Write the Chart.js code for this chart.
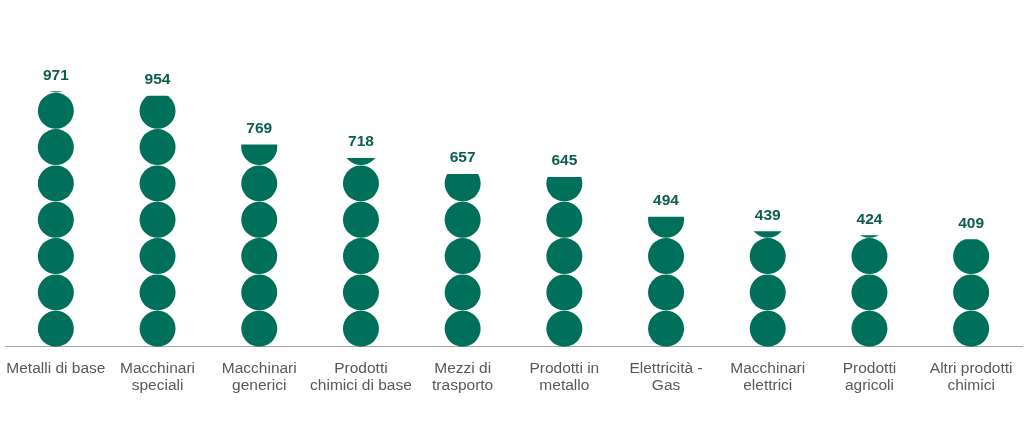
<!DOCTYPE html>
<html>
<head>
<meta charset="utf-8">
<script src="https://cdn.jsdelivr.net/npm/chart.js@4"></script>
<style>
  html, body { margin: 0; padding: 0; background: #fff; }
  #wrap { width: 1024px; height: 430px; }
</style>
</head>
<body>
<div id="wrap"><canvas id="chart"></canvas></div>
<script>
const categories = [
    ['Metalli di base'],
    ['Macchinari', 'speciali'],
    ['Macchinari', 'generici'],
    ['Prodotti', 'chimici di base'],
    ['Mezzi di', 'trasporto'],
    ['Prodotti in', 'metallo'],
    ['Elettricità -', 'Gas'],
    ['Macchinari', 'elettrici'],
    ['Prodotti', 'agricoli'],
    ['Altri prodotti', 'chimici'],
];
const values = [971, 954, 769, 718, 657, 645, 494, 439, 424, 409];
// value represented by one circle of the stack
const unitPerCircle = 138;

const green = '#00705B';
const labelGreen = '#0B5E4E';

// draws each bar as a stack of circles, clipped at the bar's top
const circleStack = {
    id: 'circleStack',
    afterDatasetsDraw(chart) {
        const ctx = chart.ctx;
        const y = chart.scales.y;
        const pitch = y.getPixelForValue(0) - y.getPixelForValue(unitPerCircle);
        const meta = chart.getDatasetMeta(0);
        meta.data.forEach((bar, i) => {
            const r = bar.width / 2;
            const top = bar.y;
            const base = bar.base;
            ctx.save();
            ctx.beginPath();
            ctx.rect(bar.x - r - 2, top, bar.width + 4, base - top);
            ctx.clip();
            ctx.fillStyle = green;
            let cy = base - pitch / 2;
            while (cy + pitch / 2 > top) {
                ctx.beginPath();
                ctx.arc(bar.x, cy, r, 0, Math.PI * 2);
                ctx.fill();
                cy -= pitch;
            }
            ctx.restore();

            ctx.save();
            ctx.fillStyle = labelGreen;
            ctx.font = 'bold 15.5px "Liberation Sans", Arial, sans-serif';
            ctx.textAlign = 'center';
            ctx.textBaseline = 'middle';
            ctx.fillText(values[i], bar.x, top - 16);
            ctx.restore();
        });
    }
};

const data = {
    labels: categories,
    datasets: [{
        data: values,
        backgroundColor: 'rgba(0,0,0,0)',
        barThickness: 36,
    }]
};

const config = {
    type: 'bar',
    data: data,
    plugins: [circleStack],
    options: {
        responsive: true,
        maintainAspectRatio: false,
        animation: false,
        layout: {
            padding: { top: 6, left: 5, right: 2, bottom: 31 }
        },
        plugins: {
            legend: { display: false },
            tooltip: { enabled: false }
        },
        scales: {
            x: {
                grid: { display: false },
                border: { display: true, color: '#A6A6A6', width: 1 },
                ticks: {
                    color: '#595959',
                    font: { family: '"Liberation Sans", Arial, sans-serif', size: 15.5, lineHeight: 1.1 },
                    maxRotation: 0,
                    autoSkip: false,
                    padding: 5
                }
            },
            y: {
                display: false,
                min: 0,
                max: 1295
            }
        }
    }
};

new Chart(document.getElementById('chart'), config);
</script>
</body>
</html>
